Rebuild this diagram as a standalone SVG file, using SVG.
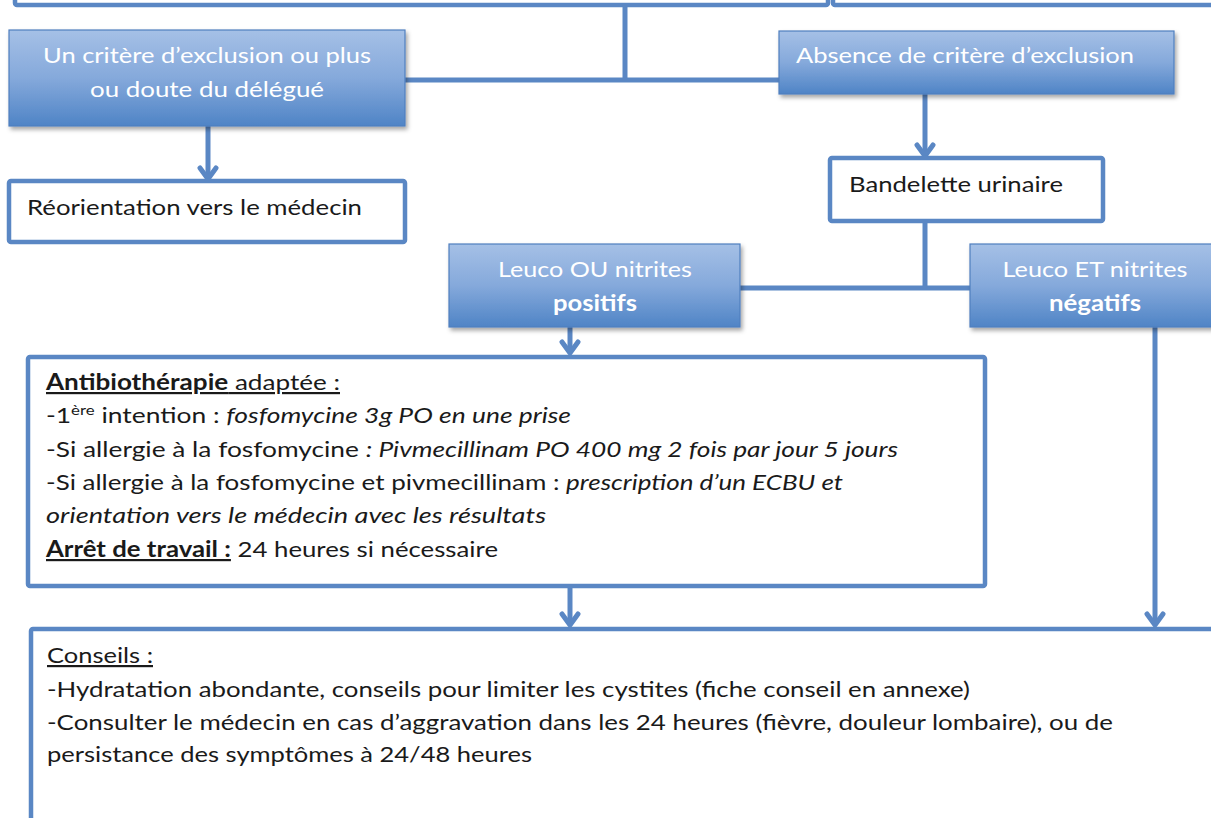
<svg xmlns="http://www.w3.org/2000/svg" width="1211" height="818" viewBox="0 0 1211 818">
<style>
.box{fill:#ffffff;stroke:#5a87c4;stroke-width:4.5}
.gbox{fill:url(#g);stroke:#4f7fbe;stroke-width:1.2}
.con{fill:none;stroke:#5a87c4;stroke-width:5}
.t{font-family:Lato,"Liberation Sans",sans-serif;font-size:22px;fill:#1a1a1a}
.w{font-family:Lato,"Liberation Sans",sans-serif;font-size:22px;fill:#ffffff}
.b{font-weight:bold}
.i{font-style:italic}
.u{text-decoration:underline}
</style>
<defs>
<linearGradient id="g" x1="0" y1="0" x2="0" y2="1">
<stop offset="0" stop-color="#a5c0e6"/>
<stop offset="0.5" stop-color="#85a9db"/>
<stop offset="1" stop-color="#4f84c6"/>
</linearGradient>
<filter id="sh" x="-5%" y="-10%" width="112%" height="130%">
<feDropShadow dx="2" dy="3" stdDeviation="2" flood-color="#000" flood-opacity="0.35"/>
</filter>
<marker id="ah" markerUnits="userSpaceOnUse" viewBox="-14 -11 16 22" refX="0" refY="0" markerWidth="16" markerHeight="22" orient="auto">
<path d="M-11,-8 L0,0 L-11,8" fill="none" stroke="#5a87c4" stroke-width="5" stroke-linejoin="round" stroke-linecap="round"/>
</marker>
</defs>
<g id="connectors">
<path class="con" d="M625,5 L625,80 M405,80 L779,80"/>
<path class="con" d="M208,126 L208,179" marker-end="url(#ah)"/>
<path class="con" d="M925,94 L925,156" marker-end="url(#ah)"/>
<path class="con" d="M925,222 L925,288 M740,288 L970,288"/>
<path class="con" d="M570,327 L570,353" marker-end="url(#ah)"/>
<path class="con" d="M570,587 L570,625" marker-end="url(#ah)"/>
<path class="con" d="M1155,327 L1155,625" marker-end="url(#ah)"/>
</g>
<g id="top-left"><rect class="box" x="15" y="-20" width="813" height="25" rx="2"/></g>
<g id="top-right"><rect class="box" x="833" y="-20" width="400" height="25" rx="2"/></g>
<g id="exclusion">
<rect class="gbox" x="9" y="30" width="396" height="96" filter="url(#sh)"/>
<text class="w" x="207" y="63" text-anchor="middle" textLength="328" lengthAdjust="spacingAndGlyphs">Un critère d’exclusion ou plus</text>
<text class="w" x="207" y="97" text-anchor="middle" textLength="234" lengthAdjust="spacingAndGlyphs">ou doute du délégué</text>
</g>
<g id="absence">
<rect class="gbox" x="779" y="31" width="395" height="63" filter="url(#sh)"/>
<text class="w" x="796" y="63" textLength="338" lengthAdjust="spacingAndGlyphs">Absence de critère d’exclusion</text>
</g>
<g id="reorientation">
<rect class="box" x="9" y="181" width="396" height="61" rx="2"/>
<text class="t" x="27" y="215" textLength="335" lengthAdjust="spacingAndGlyphs">Réorientation vers le médecin</text>
</g>
<g id="bandelette">
<rect class="box" x="830" y="158" width="273" height="63" rx="2"/>
<text class="t" x="849" y="192" textLength="214" lengthAdjust="spacingAndGlyphs">Bandelette urinaire</text>
</g>
<g id="positifs">
<rect class="gbox" x="449" y="244" width="291" height="83" filter="url(#sh)"/>
<text class="w" x="595" y="277" text-anchor="middle" textLength="194" lengthAdjust="spacingAndGlyphs">Leuco OU nitrites</text>
<text class="w b" x="595" y="311" text-anchor="middle" textLength="84" lengthAdjust="spacingAndGlyphs">positifs</text>
</g>
<g id="negatifs">
<rect class="gbox" x="970" y="244" width="260" height="83" filter="url(#sh)"/>
<text class="w" x="1095" y="277" text-anchor="middle" textLength="185" lengthAdjust="spacingAndGlyphs">Leuco ET nitrites</text>
<text class="w b" x="1095" y="311" text-anchor="middle" textLength="92" lengthAdjust="spacingAndGlyphs">négatifs</text>
</g>
<g id="antibiotherapie">
<rect class="box" x="28" y="357" width="957" height="229" rx="2"/>
<text class="t" x="46" y="390" textLength="294" lengthAdjust="spacingAndGlyphs"><tspan class="b u">Antibiothérapie</tspan><tspan class="u"> adaptée :</tspan></text>
<text class="t" x="46" y="423" textLength="525" lengthAdjust="spacingAndGlyphs">-1<tspan font-size="14" dy="-8">ère</tspan><tspan dy="8"> intention : </tspan><tspan class="i">fosfomycine 3g PO en une prise</tspan></text>
<text class="t" x="46" y="457" textLength="852" lengthAdjust="spacingAndGlyphs">-Si allergie à la fosfomycine <tspan class="i">: Pivmecillinam PO 400 mg 2 fois par jour 5 jours</tspan></text>
<text class="t" x="46" y="490" textLength="797" lengthAdjust="spacingAndGlyphs">-Si allergie à la fosfomycine et pivmecillinam : <tspan class="i">prescription d’un ECBU et</tspan></text>
<text class="t i" x="46" y="523" textLength="500" lengthAdjust="spacingAndGlyphs">orientation vers le médecin avec les résultats</text>
<text class="t" x="46" y="557" textLength="452" lengthAdjust="spacingAndGlyphs"><tspan class="b u">Arrêt de travail :</tspan> 24 heures si nécessaire</text>
</g>
<g id="conseils">
<rect class="box" x="31" y="629" width="1200" height="250" rx="2"/>
<text class="t u" x="47" y="663" textLength="106" lengthAdjust="spacingAndGlyphs">Conseils :</text>
<text class="t" x="47" y="697" textLength="923" lengthAdjust="spacingAndGlyphs">-Hydratation abondante, conseils pour limiter les cystites (fiche conseil en annexe)</text>
<text class="t" x="47" y="730" textLength="1066" lengthAdjust="spacingAndGlyphs">-Consulter le médecin en cas d’aggravation dans les 24 heures (fièvre, douleur lombaire), ou de</text>
<text class="t" x="47" y="762" textLength="485" lengthAdjust="spacingAndGlyphs">persistance des symptômes à 24/48 heures</text>
</g>
</svg>
